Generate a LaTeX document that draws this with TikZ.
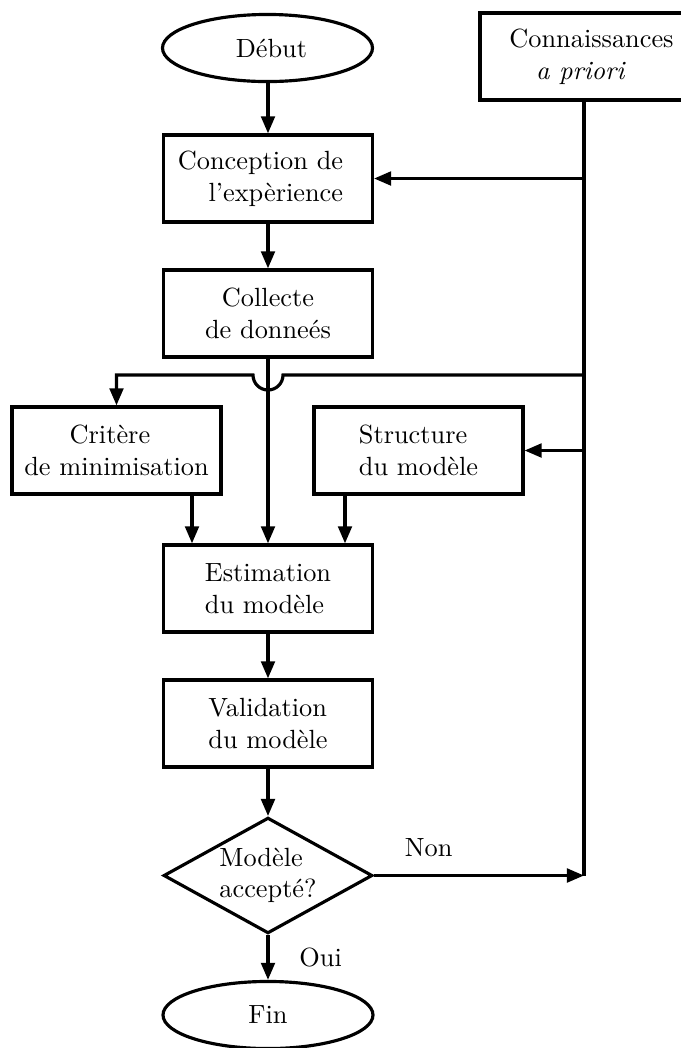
\documentclass[tikz,border=0pt]{standalone}
\usetikzlibrary{shapes.geometric,arrows.meta,calc}
\begin{document}
\begin{tikzpicture}[x=0.38pt,y=-0.38pt,
  line width=1.2pt,
  every node/.style={font=\fontsize{10}{12}\selectfont},
  procbox/.style={draw,rectangle,line width=1.2pt,minimum width=79.4pt,minimum height=33.1pt,inner sep=0pt,align=center},
  termbox/.style={draw,ellipse,line width=1.2pt,minimum width=79.8pt,minimum height=25.5pt,inner sep=0pt},
  decbox/.style={draw,diamond,line width=1.2pt,aspect=1.8,minimum width=79.4pt,minimum height=44pt,inner sep=0pt,align=left},
  arr/.style={-{Triangle[length=6.5pt,width=5.2pt]}},
  txt/.style={inner sep=0pt}]
\useasboundingbox (0,0) rectangle (680,1048);
\node[termbox] (debut) at (267.5,48) {\hspace*{3pt}Début};
\node[procbox, minimum width=83.6pt] (conn) at (590,56.5) {};
\node[txt, align=center] (conntxt) at (591.5,56.5) {Connaissances\\\hspace*{-8pt}\textit{a priori}};
\node[procbox] (conc) at (268,178.5) {};
\node[txt, align=right] (conctxt) at (260.5,178.5) {Conception de\\l’expèrience};
\node[procbox] (coll) at (268,313.5) {Collecte\\de donneés};
\node[procbox] (crit) at (116.5,450.5) {\hspace*{-5pt}Critère\\de minimisation};
\node[procbox, align=left] (struc) at (418.5,450.5) {Structure\\du modèle};
\node[procbox, align=left] (est) at (268,588.5) {Estimation\\du modèle};
\node[procbox, align=left] (val) at (268,723.5) {Validation\\du modèle};
\node[decbox] (dec) at (268,875.5) {Modèle\\accepté?};
\node[termbox] (fin) at (268,1015) {Fin};

\coordinate (spine) at (584,875.5);
\coordinate (hopR) at (283,375);
\coordinate (hopB) at (268,390);
\coordinate (hopL) at (253,375);
\coordinate (estL) at ($(est.north)+(-76,0)$);
\coordinate (estR) at ($(est.north)+(77,0)$);

\draw (conn.south -| spine) -- (spine);
\draw[arr] (debut.south -| conc.north) -- (conc.north);
\draw[arr] (spine |- conc.east) -- (conc.east);
\draw[arr] (conc) -- (coll);
\draw[arr] (spine |- hopR) -- (hopR) .. controls (283,383.3) and (276.3,390) .. (hopB)
   .. controls (259.7,390) and (253,383.3) .. (hopL) -- (hopL -| crit.north) -- (crit.north);
\draw[arr] (coll) -- (est);
\draw[arr] (spine |- struc.east) -- (struc.east);
\draw[arr] (crit.south -| estL) -- (estL);
\draw[arr] (struc.south -| estR) -- (estR);
\draw[arr] (est) -- (val);
\draw[arr] (val) -- (dec);
\draw[arr] (dec.east) -- (spine) node[pos=0.26, above=3pt] {Non};
\draw[arr] (dec) -- (fin) node[midway, right=8pt] {Oui};
\end{tikzpicture}
\end{document}
